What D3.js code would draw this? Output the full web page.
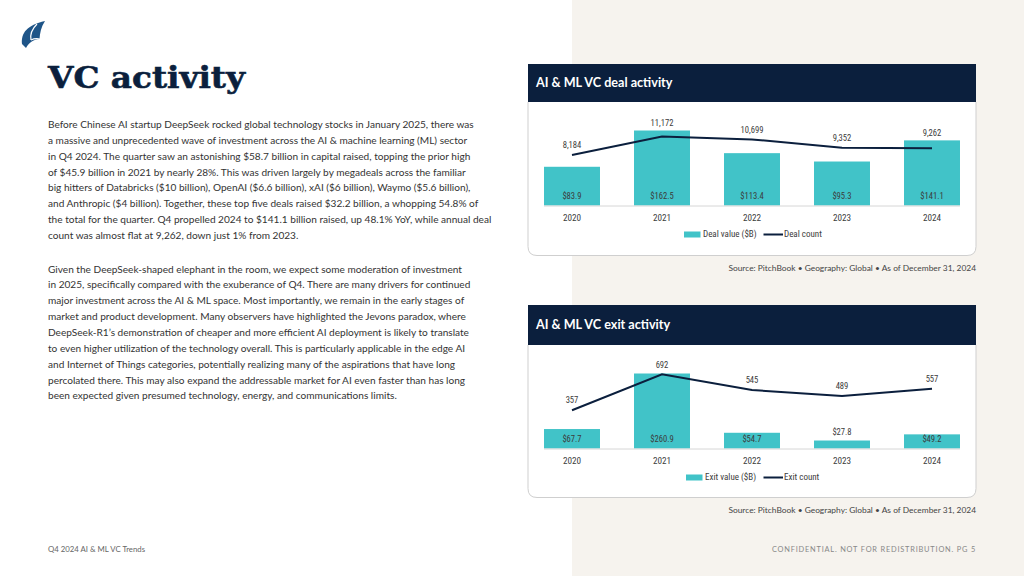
<!DOCTYPE html>
<html><head><meta charset="utf-8">
<script src="https://cdn.jsdelivr.net/npm/d3@7"></script>
<style>
html,body{margin:0;padding:0;background:#fff;}
svg{display:block;}
</style></head>
<body>
<svg id="chart" width="1024" height="576"></svg>
<script>
// ---------- data ----------
const years = ["2020", "2021", "2022", "2023", "2024"];
const dealValue = [83.9, 162.5, 113.4, 95.3, 141.1];
const dealCount = [8184, 11172, 10699, 9352, 9262];
const exitValue = [67.7, 260.9, 54.7, 27.8, 49.2];
const exitCount = [357, 692, 545, 489, 557];

const titleText = "VC activity";
const para1 = [
 "Before Chinese AI startup DeepSeek rocked global technology stocks in January 2025, there was",
 "a massive and unprecedented wave of investment across the AI & machine learning (ML) sector",
 "in Q4 2024. The quarter saw an astonishing $58.7 billion in capital raised, topping the prior high",
 "of $45.9 billion in 2021 by nearly 28%. This was driven largely by megadeals across the familiar",
 "big hitters of Databricks ($10 billion), OpenAI ($6.6 billion), xAI ($6 billion), Waymo ($5.6 billion),",
 "and Anthropic ($4 billion). Together, these top five deals raised $32.2 billion, a whopping 54.8% of",
 "the total for the quarter. Q4 propelled 2024 to $141.1 billion raised, up 48.1% YoY, while annual deal",
 "count was almost flat at 9,262, down just 1% from 2023."
];
const para2 = [
 "Given the DeepSeek-shaped elephant in the room, we expect some moderation of investment",
 "in 2025, specifically compared with the exuberance of Q4. There are many drivers for continued",
 "major investment across the AI & ML space. Most importantly, we remain in the early stages of",
 "market and product development. Many observers have highlighted the Jevons paradox, where",
 "DeepSeek-R1\u2019s demonstration of cheaper and more efficient AI deployment is likely to translate",
 "to even higher utilization of the technology overall. This is particularly applicable in the edge AI",
 "and Internet of Things categories, potentially realizing many of the aspirations that have long",
 "percolated there. This may also expand the addressable market for AI even faster than has long",
 "been expected given presumed technology, energy, and communications limits."
];
const sourceText = "Source: PitchBook  \u2022  Geography: Global  \u2022  As of December 31, 2024";

// ---------- styles ----------
const NAVY = "#0b1f3d", TEAL = "#41c3c8", BEIGE = "#f6f3ee";
const SANS = "Lato, 'Open Sans', sans-serif";
const NARROW = "'Liberation Sans Narrow', 'Roboto Condensed', 'Arial Narrow', Lato, sans-serif";
const LABEL = "#3c3c3c";

const svg = d3.select("#chart");
svg.append("rect").attr("x", 0).attr("y", 0).attr("width", 1024).attr("height", 576).attr("fill", "#fff");
svg.append("rect").attr("x", 572).attr("y", 0).attr("width", 452).attr("height", 576).attr("fill", BEIGE);

// logo
const logo = svg.append("g");
logo.append("path")
  .attr("d", "M22,44 C21,33 27,25 45,21 C41,27 40,33 39.5,39 C34,39.5 29,42 26,48 Z")
  .attr("fill", "#1f5588");
logo.append("path").attr("d", "M37,24 C32,29 30,35 31,40").attr("fill", "none").attr("stroke", "#fff").attr("stroke-width", 1.2);
logo.append("path").attr("d", "M31,40 C34,38.5 37,38.5 40,39").attr("fill", "none").attr("stroke", "#fff").attr("stroke-width", 1.2);

// title
svg.append("text").attr("x", 48).attr("y", 87.5)
  .attr("font-family", "'DejaVu Serif', serif").attr("font-weight", "bold")
  .attr("font-size", 30).attr("fill", NAVY)
  .attr("textLength", 197).attr("lengthAdjust", "spacingAndGlyphs")
  .attr("stroke", NAVY).attr("stroke-width", 0.6)
  .text(titleText);

// paragraphs
function para(lines, y0) {
  svg.append("g").selectAll("text").data(lines).join("text")
    .attr("x", 48).attr("y", (d, i) => y0 + i * 15.85)
    .attr("font-family", SANS).attr("font-size", 10.1).attr("fill", "#333")
    .attr("dominant-baseline", "middle")
    .text(d => d);
}
para(para1, 125.5);
para(para2, 270);

// footer
svg.append("text").attr("x", 48).attr("y", 550).attr("dominant-baseline", "middle")
  .attr("font-family", SANS).attr("font-size", 7.8).attr("fill", "#666").text("Q4 2024 AI & ML VC Trends");
svg.append("text").attr("x", 976).attr("y", 550).attr("dominant-baseline", "middle").attr("text-anchor", "end")
  .attr("font-family", SANS).attr("font-size", 7.4).attr("letter-spacing", 0.8).attr("fill", "#888")
  .text("CONFIDENTIAL. NOT FOR REDISTRIBUTION. PG 5");

// ---------- chart panel ----------
function panel(cfg) {
  const g = svg.append("g");
  const L = 528, R = 976, r = 9;
  g.append("path")
    .attr("d", `M${L},${cfg.headBottom} L${L},${cfg.cardBottom - r} Q${L},${cfg.cardBottom} ${L + r},${cfg.cardBottom} L${R - r},${cfg.cardBottom} Q${R},${cfg.cardBottom} ${R},${cfg.cardBottom - r} L${R},${cfg.headBottom}`)
    .attr("fill", "#fff").attr("stroke", "#cfcfcf").attr("stroke-width", 1);
  g.append("rect").attr("x", L).attr("y", cfg.headTop).attr("width", R - L).attr("height", cfg.headBottom - cfg.headTop).attr("fill", NAVY);
  g.append("text").attr("x", 536).attr("y", (cfg.headTop + cfg.headBottom) / 2 + 0.5)
    .attr("dominant-baseline", "middle").attr("font-family", SANS).attr("font-weight", 700)
    .attr("font-size", 12.6).attr("fill", "#fff").text(cfg.title);

  const x = d3.scaleBand().domain(years).range([527, 977]).paddingInner(0.378).paddingOuter(0.189);
  const yV = d3.scaleLinear().domain([0, d3.max(cfg.values)]).range([cfg.base, cfg.base - 75]);
  const yC = d3.scaleLinear().domain([0, d3.max(cfg.counts)]).range([cfg.base, cfg.base - cfg.lineH]);

  g.append("g").selectAll("rect").data(cfg.values).join("rect")
    .attr("x", (d, i) => x(years[i])).attr("width", x.bandwidth())
    .attr("y", d => yV(d)).attr("height", d => cfg.base - yV(d)).attr("fill", TEAL);

  const axis = d3.axisBottom(x).tickSize(0).tickPadding(9);
  const ag = g.append("g").attr("transform", `translate(0,${cfg.base})`).call(axis);
  ag.select(".domain").attr("d", `M${x(years[0])},0.5H${x(years[4]) + x.bandwidth()}`).attr("stroke", "#d6d6d6");
  ag.selectAll("text").attr("font-family", NARROW).attr("font-size", 9.2).attr("fill", LABEL);

  g.append("g").selectAll("text").data(cfg.values).join("text")
    .attr("x", (d, i) => x(years[i]) + x.bandwidth() / 2)
    .attr("y", d => (cfg.base - yV(d) > 12) ? cfg.base - 8.5 : yV(d) - 7.5)
    .attr("text-anchor", "middle").attr("dominant-baseline", "middle")
    .attr("font-family", NARROW).attr("font-size", 8.6).attr("fill", LABEL)
    .text(d => "$" + d3.format(".1f")(d));

  const line = d3.line().x((d, i) => x(years[i]) + x.bandwidth() / 2).y(d => yC(d));
  g.append("path").datum(cfg.counts).attr("d", line)
    .attr("fill", "none").attr("stroke", NAVY).attr("stroke-width", 2);

  g.append("g").selectAll("text").data(cfg.counts).join("text")
    .attr("x", (d, i) => x(years[i]) + x.bandwidth() / 2)
    .attr("y", (d, i) => Math.min(yV(cfg.values[i]) - 6.5, yC(d) - 9))
    .attr("text-anchor", "middle").attr("dominant-baseline", "middle")
    .attr("font-family", NARROW).attr("font-size", 8.6).attr("fill", LABEL)
    .text(d => d3.format(",")(d));

  const ly = cfg.base + 29;
  const lg = g.append("g");
  lg.append("rect").attr("x", cfg.legX).attr("y", ly - 3).attr("width", 16.5).attr("height", 6).attr("fill", TEAL);
  lg.append("text").attr("x", cfg.legX + 19).attr("y", ly).attr("dominant-baseline", "middle")
    .attr("font-family", NARROW).attr("font-size", 9).attr("fill", LABEL).text(cfg.legA);
  lg.append("line").attr("x1", 763.5).attr("x2", 783).attr("y1", ly).attr("y2", ly).attr("stroke", NAVY).attr("stroke-width", 2);
  lg.append("text").attr("x", 784).attr("y", ly).attr("dominant-baseline", "middle")
    .attr("font-family", NARROW).attr("font-size", 9).attr("fill", LABEL).text(cfg.legB);

  g.append("text").attr("x", 976).attr("y", cfg.cardBottom + 13).attr("text-anchor", "end").attr("dominant-baseline", "middle")
    .attr("font-family", SANS).attr("font-size", 8.4).attr("fill", "#444").text(sourceText);
}

panel({ title: "AI & ML VC deal activity", headTop: 64, headBottom: 102, cardBottom: 255.5, base: 205.5, lineH: 69,
  values: dealValue, counts: dealCount, legX: 684, legA: "Deal value ($B)", legB: "Deal count" });
panel({ title: "AI & ML VC exit activity", headTop: 305, headBottom: 345, cardBottom: 497.5, base: 448.5, lineH: 74.2,
  values: exitValue, counts: exitCount, legX: 686, legA: "Exit value ($B)", legB: "Exit count" });
</script>
</body></html>
